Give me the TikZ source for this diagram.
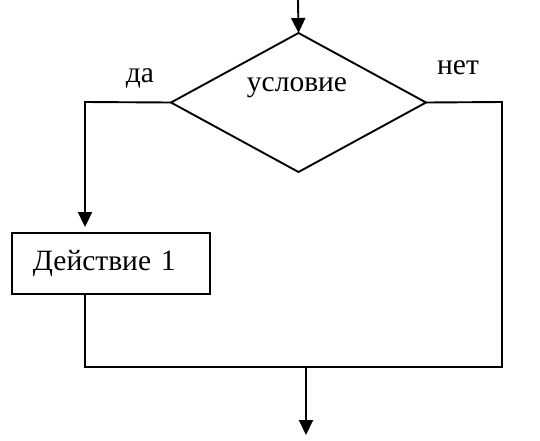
\documentclass[tikz,border=0pt]{standalone}
\usepackage{fontspec}
\setmainfont{Liberation Serif}
\usetikzlibrary{arrows.meta,shapes.geometric}
\begin{document}
\begin{tikzpicture}[x=1pt,y=-1pt, line width=1.9pt,
  arr/.style={-{Triangle[length=15pt,width=14pt]}},
  txt/.style={font=\fontsize{29.5}{32}\selectfont},
  lbl/.style={txt, inner sep=0pt}]
\useasboundingbox[fill=white] (0,0) rectangle (540,440);
\node[draw, diamond, minimum width=255pt, minimum height=139pt, inner sep=0pt, outer sep=0pt, line join=miter] (dia) at (298.5,102.5) {};
\node[lbl] (cond) at (297,88) {условие};
\node[draw, anchor=west, inner xsep=21pt, text width=156pt, align=left, minimum height=61pt, txt] (act) at (11,263.5) {Действие 1};
\node[lbl] (yes) at (140,78) {да};
\node[lbl] (no) at (458,68) {нет};
\coordinate (in) at (298,0);
\coordinate (yl) at (85,102);
\coordinate (tr) at (502,102);
\coordinate (bl) at (85,367);
\coordinate (br) at (502,367);
\coordinate (m) at (306,367);
\coordinate (out) at (306,435);
\draw[arr] (in) -- (dia.north);
\draw[arr, shorten >=5pt] (dia.west) -- (yl) -- (yl |- act.north);
\draw (yl |- act.south) -- (bl) -- (br) -- (tr) -- (dia.east);
\draw[arr] (m) -- (out);
\end{tikzpicture}
\end{document}
